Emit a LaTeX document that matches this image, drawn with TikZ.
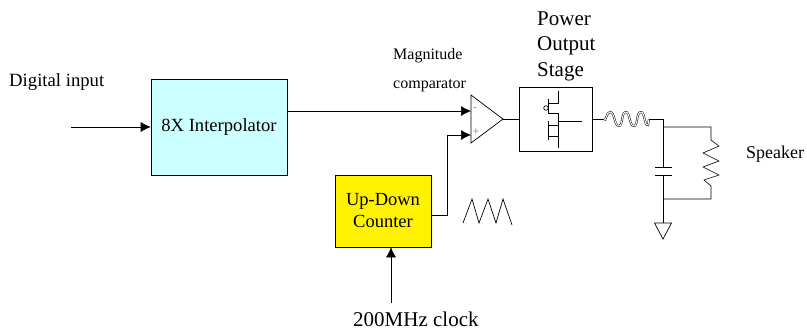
\documentclass[tikz,border=0pt]{standalone}
\usepackage{fontspec}
\setmainfont{Liberation Serif}
\usetikzlibrary{arrows.meta,positioning}
\definecolor{interpcyan}{RGB}{204,255,255}
\tikzset{
	block/.style={draw,semithick,inner sep=0pt,align=center},
	sig/.style={-{Latex[length=10pt,width=10pt]},semithick},
	wire/.style={semithick},
	thinwire/.style={line width=0.7pt},
	label/.style={inner sep=0pt,align=left,anchor=base west}
}
\begin{document}
\begin{tikzpicture}[x=1pt,y=-1pt]
	\useasboundingbox (0,0) rectangle (807,330);
	
	\node[block,fill=interpcyan,minimum width=136pt,minimum height=96pt,font=\fontsize{18.6}{22}\selectfont] (interp) at (219,127) {8X Interpolator};
	\node[block,fill=yellow,minimum width=96pt,minimum height=72pt,font=\fontsize{18.5}{22}\selectfont] (counter) at (383,211) {Up-Down\\Counter};
	\node[block,minimum width=73pt,minimum height=64pt] (stage) at (555.5,119) {};
	
	% comparator
	\draw[thinwire] (471,95) coordinate (cmpa) -- (503,119) coordinate (cmpout) -- (471,143) coordinate (cmpb) -- cycle;
	\coordinate (cmpminus) at (471,111);
	\coordinate (cmpplus) at (471,135);
	\node[inner sep=0pt,gray,font=\fontsize{10}{10}\selectfont] (minus) at (475,109) {-};
	\node[inner sep=0pt,gray,font=\fontsize{12}{12}\selectfont] (plus) at (476,132) {+};
	
	% signal path
	\coordinate (inl) at (71,127);
	\coordinate (clk) at (391,303);
	\draw[sig] (inl) -- (interp.west);
	\draw[sig] (cmpminus -| interp.east) -- (cmpminus);
	\draw[sig] (counter.east |- 0,215) -- (447,215) -- (447,135) -- (cmpplus);
	\draw[sig] (clk) -- (clk |- counter.south);
	\draw[wire] (cmpout) -- (cmpout -| stage.west);
	
	% transistors
	\coordinate (drv) at (582,121);
	\draw[thinwire] (558,91) -- (558,103) -- (548,103);
	\draw[thinwire] (548,99) -- (548,113) -- (558,113) -- (558,148);
	\draw[thinwire] (548,121) -- (548,140);
	\draw[thinwire] (548,125) -- (558,125);
	\draw[thinwire] (548,136) -- (558,136);
	\draw[thinwire] (546,108) circle (2.3pt);
	\draw[thinwire] (558,121) -- (drv);
	
	% output filter
	\coordinate (lin) at (604,119);
	\coordinate (lout) at (649,119);
	\coordinate (top) at (663,119);
	\coordinate (gnd) at (663,223);
	\coordinate (capa) at (663,167);
	\coordinate (capb) at (663,175);
	\draw[wire] (stage.east |- lin) -- (lin);
	\draw[double=white,line width=0.5pt,double distance=1pt] (lin) .. controls (606,123) and (606,112) .. (610,112) .. controls (615,112) and (614,126) .. (619,126) .. controls (623,126) and (621,112) .. (626,112) .. controls (630,112) and (629,126) .. (634,126) .. controls (638,126) and (636,112) .. (641,112) .. controls (645,112) and (644,126) .. (648,125) -- (lout);
	\draw[wire] (lout) -- (top) -- (capa);
	\draw[wire] (capb) -- (gnd);
	\draw[wire] (655,167) -- (672,167);
	\draw[wire] (655,175) -- (672,175);
	\draw[thinwire] (gnd) -- ++(-8.5,0) -- (663,239) -- (671.5,223) -- cycle;
	\draw[wire] (663,127) -- (711,127) -- (711,140) -- (719,146) -- (703,153) -- (719,161) -- (703,167) -- (719,175) -- (704,180) -- (711,186) -- (711,199) -- (663,199);
	
	% triangle wave
	\draw[thinwire] (463,223) -- (472,199) -- (479,223) -- (488,199) -- (496,223) -- (503,199) -- (512,225);
	
	% labels
	\node[label,font=\fontsize{18.7}{21}\selectfont] (input) at (9,86) {Digital input};
	\node[label,font=\fontsize{16}{18}\selectfont] (magn) at (393,59) {Magnitude};
	\node[label,font=\fontsize{16}{18}\selectfont] (comp) at (393,88) {comparator};
	\node[label,font=\fontsize{21}{25.5}\selectfont] (power) at (537,25) {Power};
	\node[label,font=\fontsize{21}{25.5}\selectfont] (output) at (537,50) {Output};
	\node[label,font=\fontsize{21}{25.5}\selectfont] (stagetxt) at (537,76) {Stage};
	\node[label,font=\fontsize{18}{21}\selectfont] (spk) at (746,158) {Speaker};
	\node[label,font=\fontsize{21}{24}\selectfont] (clock) at (353,326) {200MHz clock};
\end{tikzpicture}
\end{document}
